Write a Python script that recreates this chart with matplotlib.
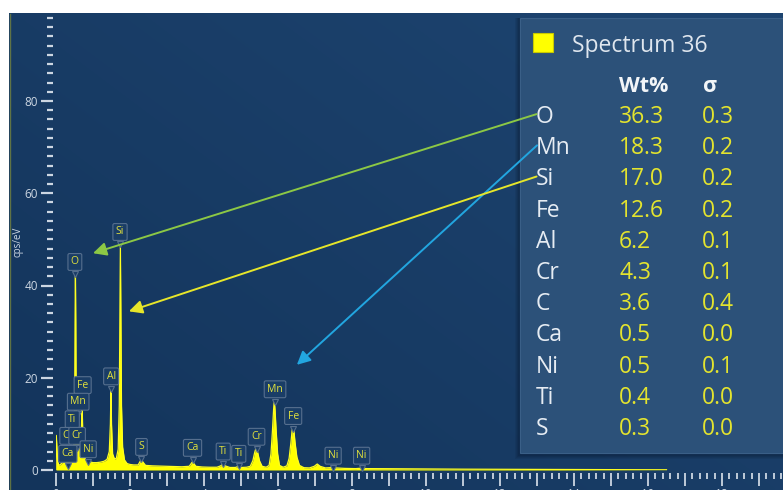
import numpy as np
import matplotlib
matplotlib.use("Agg")
import matplotlib.pyplot as plt
from matplotlib.patches import Rectangle
from matplotlib.ticker import MultipleLocator, FixedLocator, FuncFormatter
from matplotlib.transforms import ScaledTranslation

# ---- EDS spectrum samples: energy (keV) and intensity (cps/eV) ----
energy_kev = [
    0.000, 0.008, 0.025, 0.045, 0.08, 0.12, 0.17, 0.21, 0.24, 0.277, 0.30, 0.341,
    0.37, 0.42, 0.46, 0.49, 0.505, 0.515, 0.525, 0.535, 0.545, 0.56, 0.573, 0.60,
    0.637, 0.665, 0.685, 0.697, 0.705, 0.715, 0.73, 0.76, 0.80, 0.85, 0.90, 1.00,
    1.10, 1.20, 1.30, 1.38, 1.44, 1.47, 1.486, 1.50, 1.53, 1.58, 1.63, 1.68, 1.71,
    1.727, 1.74, 1.753, 1.77, 1.80, 1.85, 1.92, 2.00, 2.10, 2.22, 2.27, 2.307, 2.35,
    2.42, 2.6, 2.8, 3.0, 3.2, 3.4, 3.6, 3.69, 3.78, 3.95, 4.15, 4.35, 4.45, 4.51,
    4.57, 4.7, 4.85, 4.93, 5.01, 5.15, 5.25, 5.32, 5.37, 5.41, 5.45, 5.50, 5.57,
    5.68, 5.76, 5.81, 5.85, 5.88, 5.90, 5.92, 5.95, 5.99, 6.04, 6.14, 6.24, 6.30,
    6.35, 6.38, 6.40, 6.43, 6.46, 6.51, 6.58, 6.70, 6.85, 6.98, 7.06, 7.14, 7.28,
    7.40, 7.48, 7.56, 7.8, 8.1, 8.26, 8.4, 9.0, 10.0, 11.0, 12.0, 13.0, 14.0, 15.0,
    16.0, 16.5,
]
intensity_cps = [
    0.0, 7.5, 5.0, 1.8, 1.0, 1.2, 1.6, 2.4, 1.6, 2.8, 1.8, 2.6,
    1.8, 2.0, 2.8, 6.0, 16.0, 32.0, 43.0, 32.0, 16.0, 7.5, 6.5, 5.0,
    6.5, 5.5, 8.0, 12.5, 13.0, 11.0, 5.5, 3.0, 2.2, 2.2, 1.8, 1.6,
    1.6, 1.7, 1.9, 2.3, 4.0, 10.0, 17.8, 10.0, 3.5, 2.4, 2.5, 4.5, 14.0,
    35.0, 48.8, 35.0, 14.0, 5.0, 2.2, 1.4, 1.2, 1.1, 1.1, 1.8, 2.4, 1.7,
    1.0, 0.9, 0.85, 0.8, 0.75, 0.7, 0.8, 1.8, 0.8, 0.65, 0.6, 0.6, 0.9, 1.3,
    0.9, 0.55, 0.55, 0.8, 0.55, 0.6, 0.8, 2.0, 3.8, 4.9, 3.8, 2.0, 0.8,
    0.6, 1.0, 3.5, 8.5, 13.0, 15.2, 13.0, 8.5, 3.5, 1.0, 0.6, 0.9, 2.5,
    6.0, 8.5, 9.4, 8.5, 6.0, 2.8, 1.0, 0.5, 0.45, 0.8, 1.3, 0.8, 0.45,
    0.5, 0.7, 0.45, 0.35, 0.3, 0.4, 0.3, 0.28, 0.22, 0.18, 0.15, 0.12, 0.1, 0.08,
    0.06, 0.05,
]

# ---- peak identification tags ----
peak_labels = ["O", "Si", "Al", "Fe", "Mn", "Ti", "C", "Cr", "Ca", "Ni",
               "S", "Ca", "Ti", "Ti", "Cr", "Mn", "Fe", "Ni", "Ni"]
peak_energy = [0.51, 1.73, 1.49, 0.72, 0.60, 0.44, 0.27, 0.57, 0.32, 0.87,
               2.31, 3.69, 4.52, 4.94, 5.42, 5.92, 6.41, 7.49, 8.26]
peak_tag_level = [45.1, 51.6, 20.3, 18.4, 14.8, 11.0, 7.4, 7.4, 3.5, 4.5,
                  5.0, 4.8, 4.0, 3.5, 7.2, 17.5, 11.7, 3.1, 3.1]

# ---- quantification results ----
spectrum_name = "Spectrum 36"
elements = ["O", "Mn", "Si", "Fe", "Al", "Cr", "C", "Ca", "Ni", "Ti", "S"]
wt_percent = [36.3, 18.3, 17.0, 12.6, 6.2, 4.3, 3.6, 0.5, 0.5, 0.4, 0.3]
wt_sigma = [0.3, 0.2, 0.2, 0.2, 0.1, 0.1, 0.4, 0.0, 0.1, 0.0, 0.0]

# ---- callouts from table rows to spectrum points ----
callout_elements = ["O", "Mn", "Si"]
callout_energy = [1.00, 6.51, 1.97]
callout_level = [47.0, 22.8, 34.4]
callout_colors = ["#8cc845", "#22a6e0", "#e6e62a"]

FONT = "Open Sans"
W, H = 783, 490
fig = plt.figure(figsize=(W / 100, H / 100), dpi=100, facecolor="white")

# background gradient panel (pixel coordinates)
bg = fig.add_axes([0, 0, 1, 1], zorder=0)
bg.set_xlim(0, W)
bg.set_ylim(H, 0)
bg.axis("off")
gx = np.linspace(0, 1, 200)
gy = np.linspace(0, 1, 120)
GX, GY = np.meshgrid(gx, gy)
t = np.clip(0.55 * GX + 0.45 * (1 - GY), 0, 1)[..., None]
c0 = np.array([0x13, 0x34, 0x5b]) / 255
c1 = np.array([0x1e, 0x45, 0x71]) / 255
bg.imshow(c0 + t * (c1 - c0), extent=[9, W, H, 14], aspect="auto",
          interpolation="bilinear")
bg.plot([9.5, 9.5], [14, H], color="#7f8c3a", lw=1.0, alpha=0.7)

# spectrum axes
x_right = (W - 56) / 37.0
y_top = 456 / 4.6125
ax = fig.add_axes([56 / W, 20 / H, (W - 56) / W, 456 / H], zorder=1)
ax.patch.set_alpha(0)
ax.set_xlim(0, x_right)
ax.set_ylim(0, y_top)
for s in ax.spines.values():
    s.set_visible(False)
ax.spines["left"].set_position(("outward", 2))
ax.spines["bottom"].set_position(("outward", 2))

ax.fill_between(energy_kev, intensity_cps, 0, color="#ffff00", lw=0, zorder=2)
ax.plot(energy_kev, intensity_cps, color="#ffff20", lw=0.9, zorder=2)

tick_col = "#ccd6e2"
ax.yaxis.set_major_locator(FixedLocator([0, 20, 40, 60, 80]))
ax.yaxis.set_minor_locator(FixedLocator([v for v in range(2, 99, 2) if v % 20]))
ax.tick_params(axis="y", which="major", length=9, width=1.6, color=tick_col,
               labelcolor=tick_col, labelsize=8.5, pad=2)
ax.tick_params(axis="y", which="minor", length=4.5, width=1.6, color=tick_col)

ax.xaxis.set_major_locator(MultipleLocator(1))
ax.xaxis.set_minor_locator(FixedLocator(
    [round(i * 0.2, 1) for i in range(0, 99) if i % 5]))
ax.xaxis.set_major_formatter(
    FuncFormatter(lambda v, p: f"{int(round(v))}" if int(round(v)) % 2 == 0 else ""))
ax.tick_params(axis="x", which="major", length=9, width=1.3, color=tick_col,
               labelcolor=tick_col, labelsize=8.5, pad=2)
ax.tick_params(axis="x", which="minor", length=4, width=1.3, color=tick_col)
for tk in ax.xaxis.get_major_ticks():
    if int(round(tk.get_loc())) % 2:
        tk.tick1line.set_markersize(6.5)
for lab in ax.get_xticklabels() + ax.get_yticklabels():
    lab.set_fontfamily(FONT)
ax.set_ylabel("cps/eV", color=tick_col, fontsize=7, family=FONT)
ax.yaxis.set_label_coords(-0.045, 0.5)

# peak tags
tag_face = "#1a3d66"
tag_edge = "#566f8e"
down = ScaledTranslation(0, -9 / 72, fig.dpi_scale_trans)
for name, e, lvl in zip(peak_labels, peak_energy, peak_tag_level):
    ax.plot([e], [lvl], marker="v", ms=5, mfc=tag_face, mec=tag_edge, mew=0.8,
            transform=ax.transData + down, zorder=4, clip_on=False)
    ax.text(e, lvl, name, ha="center", va="center", fontsize=7.5, family=FONT,
            color="#e2e23c", zorder=5,
            bbox=dict(boxstyle="round,pad=0.28,rounding_size=0.15",
                      fc=tag_face, ec=tag_edge, lw=0.8))

# overlay: results table and callouts (pixel coordinates)
ov = fig.add_axes([0, 0, 1, 1], zorder=3)
ov.set_xlim(0, W)
ov.set_ylim(H, 0)
ov.axis("off")
ov.patch.set_alpha(0)

for k, a in enumerate([0.10, 0.10, 0.12, 0.15]):
    d = 5 - k
    ov.add_patch(Rectangle((520 - d, 18), W, 435 + d + 1, fc="#07182c",
                           ec="none", alpha=a))
ov.add_patch(Rectangle((520, 18), W - 520, 435, fc="#2c5179",
                       ec="#3a5f87", lw=0.8))
ov.add_patch(Rectangle((533, 33), 20, 19, fc="#ffff00", ec="#c8c800", lw=0.8))
ov.text(572, 46, spectrum_name, fontsize=16.5, family=FONT, color="#dfe6ee",
        va="center", ha="left")
ov.text(619, 86, "Wt%", fontsize=15.5, family=FONT, weight="bold",
        color="#f2f5f8", va="center", ha="left")
ov.text(703, 86, "σ", fontsize=15.5, family=FONT, weight="bold",
        color="#f2f5f8", va="center", ha="left")

name_artists = {}
for i, (el, wt, sg) in enumerate(zip(elements, wt_percent, wt_sigma)):
    y = 117 + i * 31.2
    name_artists[el] = ov.text(536, y, el, fontsize=16.5, family=FONT,
                               color="#e6ecf3", va="center", ha="left")
    ov.text(619, y, f"{wt:.1f}", fontsize=16.5, family=FONT, color="#e4e42e",
            va="center", ha="left")
    ov.text(702, y, f"{sg:.1f}", fontsize=16.5, family=FONT, color="#e4e42e",
            va="center", ha="left")

for el, e, lvl, col in zip(callout_elements, callout_energy, callout_level,
                           callout_colors):
    ov.annotate("", xy=(e, lvl), xycoords=ax.transData,
                xytext=(0.03, 0.62), textcoords=name_artists[el],
                arrowprops=dict(arrowstyle="-|>", color=col, lw=1.4,
                                mutation_scale=20, shrinkA=0, shrinkB=0))

fig.savefig("out.png", dpi=100, facecolor="white")
